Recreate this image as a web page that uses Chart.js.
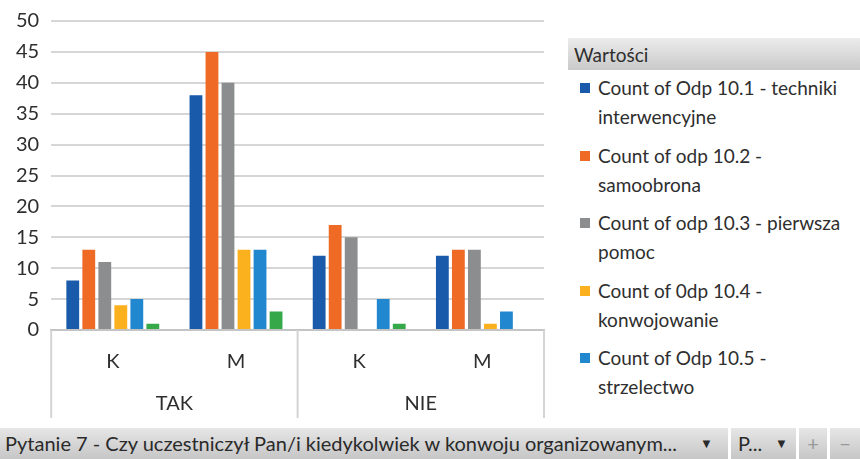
<!DOCTYPE html>
<html>
<head>
<meta charset="utf-8">
<script src="https://cdn.jsdelivr.net/npm/chart.js@4/dist/chart.umd.min.js"></script>
<style>
  body{margin:0;background:#fff;width:860px;height:459px;overflow:hidden;position:relative;font-family:Lato,sans-serif;color:#2e2e2e;}
  #wrap{position:absolute;left:0;top:-3px;width:556px;height:421px;}
  #legend{position:absolute;left:568px;top:38px;width:292px;height:388px;overflow:hidden;}
  #legend .head{height:32px;line-height:33px;padding-left:6px;font-size:19px;background:linear-gradient(#ececec,#c9c9c9);}
  #legend .item{position:relative;padding-left:30px;font-size:19px;line-height:29px;margin-top:9.5px;}
  #legend .item:nth-child(2){margin-top:3px;}
  #legend .item span.sq{position:absolute;left:12px;top:10px;width:10px;height:10px;}
  #bar{position:absolute;left:0;top:428px;width:860px;height:31px;}
  #bar div{position:absolute;top:0;height:31px;line-height:31px;font-size:20px;background:linear-gradient(#e6e6e6,#c6c6c6);color:#2a2a2a;}
</style>
</head>
<body>
<div id="wrap"><canvas id="grafico"></canvas></div>
<div id="legend"></div>
<div id="bar">
  <div style="left:0;width:728px;padding-left:5px;box-sizing:border-box;">Pytanie 7 - Czy uczestniczył Pan/i kiedykolwiek w konwoju organizowanym...<span style="position:absolute;left:700px;font-size:13px;">▼</span></div>
  <div style="left:731px;width:65px;padding-left:7px;box-sizing:border-box;">P...<span style="position:absolute;left:44px;font-size:13px;">▼</span></div>
  <div style="left:799px;width:28px;text-align:center;color:#999;">+</div>
  <div style="left:830px;width:30px;text-align:center;color:#999;">−</div>
</div>
<script>
/* DANE */
const podkategorie = ["K", "M", "K", "M"];
const grupy = ["TAK", "NIE"];
const nazwy = [
  "Count of Odp 10.1 - techniki interwencyjne",
  "Count of odp 10.2 - samoobrona",
  "Count of odp 10.3 - pierwsza pomoc",
  "Count of 0dp 10.4 - konwojowanie",
  "Count of Odp 10.5 - strzelectwo",
  "Count of Odp 10.6"
];
const legendaLinie = [
  ["Count of Odp 10.1 - techniki", "interwencyjne"],
  ["Count of odp 10.2 -", "samoobrona"],
  ["Count of odp 10.3 - pierwsza", "pomoc"],
  ["Count of 0dp 10.4 -", "konwojowanie"],
  ["Count of Odp 10.5 -", "strzelectwo"]
];
const odp1 = [8, 38, 12, 12];
const odp2 = [13, 45, 17, 13];
const odp3 = [11, 40, 15, 13];
const odp4 = [4, 13, 0, 1];
const odp5 = [5, 13, 5, 3];
const odp6 = [1, 3, 1, 0];
const kolory = ["#1a5aaa", "#ee6a25", "#8b8d8f", "#fbb01d", "#2188d0", "#35a94a"];
const yTicks = [0, 5, 10, 15, 20, 25, 30, 35, 40, 45, 50];

/* LEGENDA */
const legEl = document.getElementById("legend");
legEl.innerHTML = '<div class="head">Wartości</div>';
legendaLinie.forEach((linie, i) => {
  legEl.innerHTML += `<div class="item"><span class="sq" style="background:${kolory[i]}"></span>${linie.join("<br>")}</div>`;
});

/* LINIE PODZIAŁU GRUP */
const podzial = {
  id: "podzial",
  afterDraw(chart){
    const x = chart.scales.x, ctx = chart.ctx;
    const a = chart.chartArea;
    const srodek = (x.getPixelForValue(1) + x.getPixelForValue(2)) / 2;
    ctx.save();
    ctx.strokeStyle = "#d4d4d4";
    ctx.lineWidth = 2;
    [a.left, srodek, a.right].forEach(px => {
      ctx.beginPath();
      ctx.moveTo(px, a.bottom);
      ctx.lineTo(px, chart.height);
      ctx.stroke();
    });
    ctx.restore();
  }
};

const serie = [odp1, odp2, odp3, odp4, odp5, odp6];
new Chart(document.getElementById("grafico"), {
  type: "bar",
  data: {
    labels: podkategorie,
    datasets: serie.map((d, i) => ({
      label: nazwy[i],
      data: d,
      backgroundColor: kolory[i],
      categoryPercentage: 0.78,
      barPercentage: 0.8
    }))
  },
  options: {
    responsive: true,
    maintainAspectRatio: false,
    animation: false,
    layout: { padding: { top: 7, right: 12, left: 4, bottom: 0 } },
    plugins: { legend: { display: false }, tooltip: { enabled: false } },
    scales: {
      y: {
        min: 0, max: 50,
        afterBuildTicks: s => { s.ticks = yTicks.map(v => ({ value: v })); },
        ticks: { font: { family: "Lato", size: 20 }, color: "#2e2e2e", padding: 12 },
        grid: { color: "#d6d6d6", lineWidth: 2, drawTicks: false },
        border: { display: false }
      },
      x: {
        afterFit: s => { s.height = 44; },
        grid: { display: false, drawTicks: false },
        border: { color: "#c4c4c4", width: 2 },
        ticks: { font: { family: "Lato", size: 20 }, color: "#2e2e2e", padding: 20 }
      },
      x2: {
        type: "category",
        labels: grupy,
        position: "bottom",
        afterFit: s => { s.height = 44; },
        grid: { display: false, drawTicks: false },
        border: { display: false },
        ticks: { font: { family: "Lato", size: 20 }, color: "#2e2e2e", padding: 18 }
      }
    }
  },
  plugins: [podzial]
});
</script>
</body>
</html>
